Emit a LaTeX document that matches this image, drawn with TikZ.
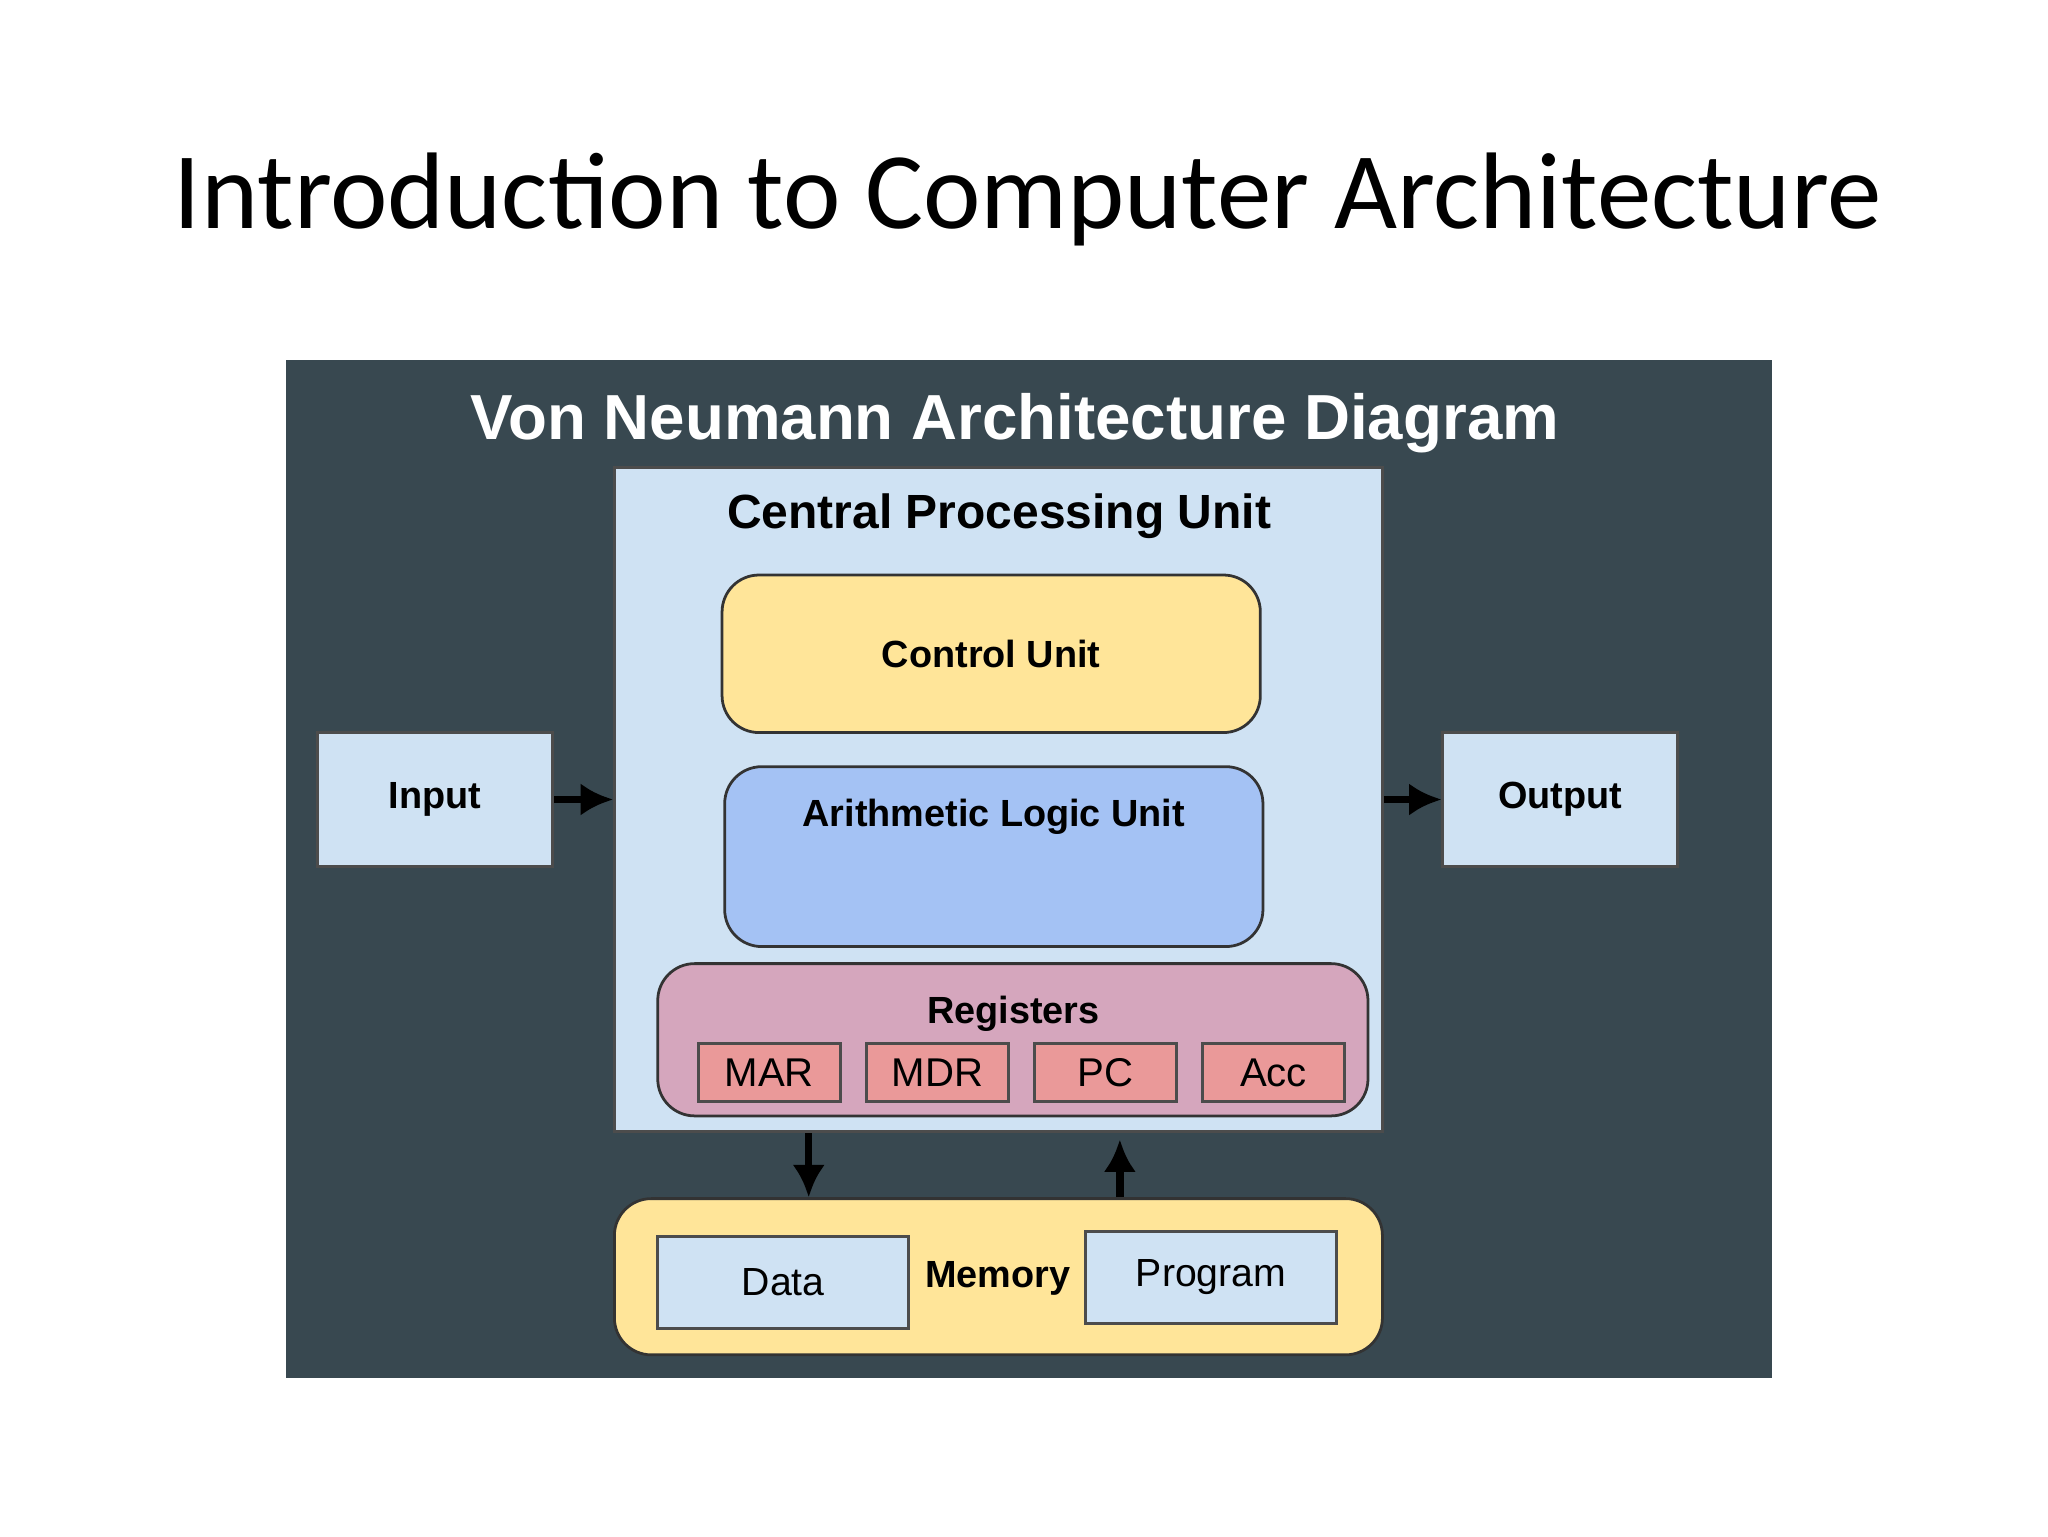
\documentclass[tikz,border=0pt]{standalone}
\usepackage{fontspec}
\setmainfont{Liberation Sans}
\newfontfamily\titlefont{Carlito}
\usetikzlibrary{arrows.meta}
\definecolor{bgdark}{RGB}{56,72,80}
\definecolor{lblue}{RGB}{207,226,243}
\definecolor{lyellow}{RGB}{255,229,153}
\definecolor{mblue}{RGB}{164,194,244}
\definecolor{lpink}{RGB}{213,166,189}
\definecolor{lred}{RGB}{234,153,153}
\begin{document}
\begin{tikzpicture}[
  box/.style={draw=black!70, line width=0.6pt, inner sep=0pt, font=\bfseries\fontsize{8.2}{10}\selectfont},
  rbox/.style={box, rounded corners=8pt, draw=black!80},
  reg/.style={box, fill=lred, minimum width=1.08cm, minimum height=0.44cm, font=\fontsize{8.7}{10}\selectfont},
  lbl/.style={font=\bfseries\fontsize{8.2}{10}\selectfont},
  arr/.style={-{Latex[length=7pt,width=7pt]}, line width=1.6pt, black}
]
\useasboundingbox (0,0) rectangle (15.6,-11.7);
\fill[white] (0,0) rectangle (15.6,-11.7);
\node[font=\titlefont\fontsize{23.6}{28}\selectfont] (title) at (7.83,-1.52) {Introduction to Computer Architecture};
\fill[bgdark] (2.18,-2.74) rectangle (13.50,-10.50);
\node[text=white, font=\bfseries\fontsize{13.8}{17}\selectfont] (vn) at (7.73,-3.22) {Von Neumann Architecture Diagram};

\node[box, fill=lblue, minimum width=5.85cm, minimum height=5.06cm] (cpu) at (7.605,-6.09) {};
\node[font=\bfseries\fontsize{10.4}{12}\selectfont] (cpul) at (7.61,-3.93) {Central Processing Unit};
\node[rbox, fill=lyellow, minimum width=4.1cm, minimum height=1.2cm] (cu) at (7.55,-4.98) {Control Unit};
\node[rbox, fill=mblue, minimum width=4.1cm, minimum height=1.37cm] (alu) at (7.57,-6.525) {};
\node[lbl] (alul) at (7.57,-6.22) {Arithmetic Logic Unit};
\node[rbox, fill=lpink, minimum width=5.41cm, minimum height=1.16cm] (regs) at (7.715,-7.92) {};
\node[lbl] (regsl) at (7.72,-7.72) {Registers};
\node[reg] (mar) at (5.86,-8.17) {MAR};
\node[reg] (mdr) at (7.14,-8.17) {MDR};
\node[reg] (pc) at (8.42,-8.17) {PC};
\node[reg] (acc) at (9.70,-8.17) {Acc};

\node[box, fill=lblue, minimum width=1.79cm, minimum height=1.02cm] (in) at (3.315,-6.09) {Input};
\node[box, fill=lblue, minimum width=1.79cm, minimum height=1.02cm] (out) at (11.885,-6.09) {Output};

\node[rbox, fill=lyellow, minimum width=5.85cm, minimum height=1.19cm] (mem) at (7.605,-9.725) {};
\node[lbl] (meml) at (7.60,-9.74) {Memory};
\node[box, fill=lblue, minimum width=1.91cm, minimum height=0.7cm, font=\fontsize{8.5}{10}\selectfont] (data) at (5.965,-9.77) {Data};
\node[box, fill=lblue, minimum width=1.91cm, minimum height=0.7cm, font=\fontsize{8.5}{10}\selectfont] (prog) at (9.225,-9.73) {Program};

\coordinate (a1) at (6.16,0);
\coordinate (a2) at (8.53,0);
\draw[arr] (in) -- (cpu);
\draw[arr] (cpu) -- (out);
\draw[arr] (cpu.south -| a1) -- (mem.north -| a1);
\draw[arr] (mem.north -| a2) -- ([yshift=-0.05cm]cpu.south -| a2);
\end{tikzpicture}
\end{document}
